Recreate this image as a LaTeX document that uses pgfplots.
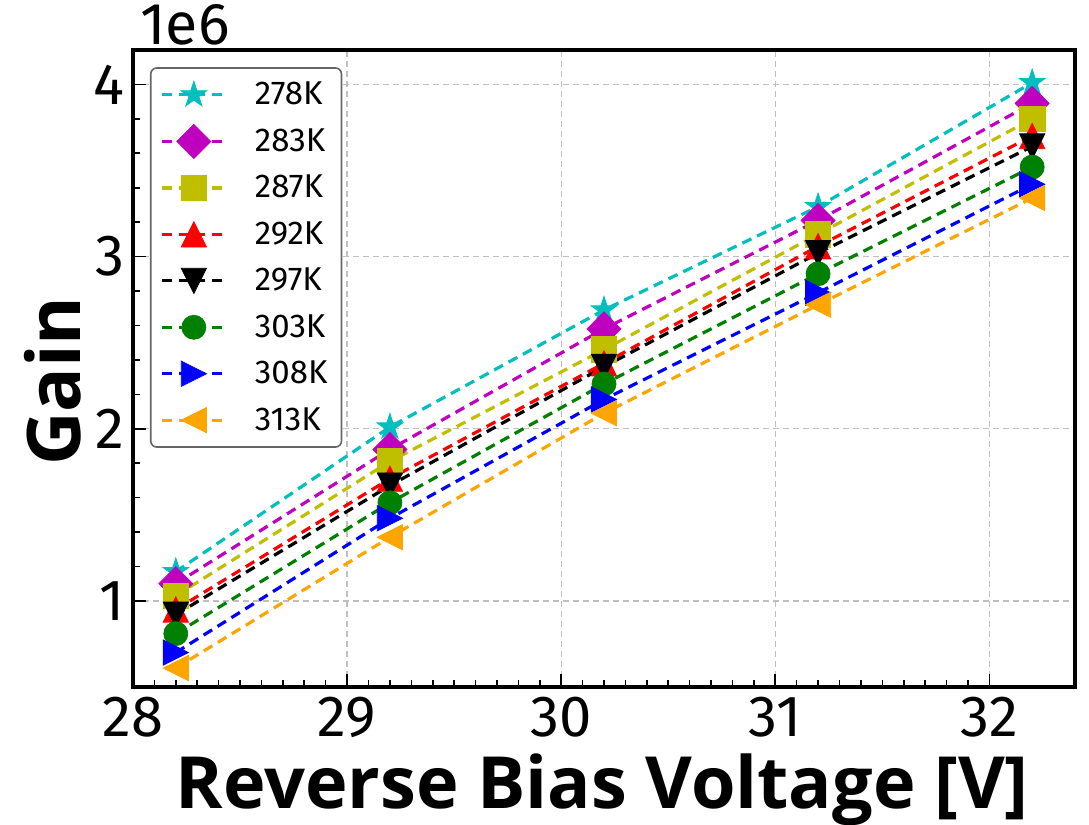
\documentclass[border=0pt]{standalone}
\usepackage{fontspec}
\setmainfont{Fira Sans}
\newfontfamily\labelfont{Open Sans}
\usepackage{pgfplots}
\usepackage{pgfplotstable}
\pgfplotsset{compat=1.18}
\usetikzlibrary{plotmarks}

\definecolor{mc}{rgb}{0,0.75,0.75}
\definecolor{mm}{rgb}{0.75,0,0.75}
\definecolor{my}{rgb}{0.75,0.75,0}
\definecolor{mr}{rgb}{1,0,0}
\definecolor{mk}{rgb}{0,0,0}
\definecolor{mg}{rgb}{0,0.5,0}
\definecolor{mb}{rgb}{0,0,1}
\definecolor{mo}{rgb}{1,0.647,0}

\pgfdeclareplotmark{mstar}{%
 \pgfpathmoveto{\pgfpointpolar{90}{\pgfplotmarksize}}%
 \pgfpathlineto{\pgfpointpolar{126}{0.382\pgfplotmarksize}}%
 \pgfpathlineto{\pgfpointpolar{162}{\pgfplotmarksize}}%
 \pgfpathlineto{\pgfpointpolar{198}{0.382\pgfplotmarksize}}%
 \pgfpathlineto{\pgfpointpolar{234}{\pgfplotmarksize}}%
 \pgfpathlineto{\pgfpointpolar{270}{0.382\pgfplotmarksize}}%
 \pgfpathlineto{\pgfpointpolar{306}{\pgfplotmarksize}}%
 \pgfpathlineto{\pgfpointpolar{342}{0.382\pgfplotmarksize}}%
 \pgfpathlineto{\pgfpointpolar{18}{\pgfplotmarksize}}%
 \pgfpathlineto{\pgfpointpolar{54}{0.382\pgfplotmarksize}}%
 \pgfpathclose\pgfusepathqfillstroke}
\pgfdeclareplotmark{mdiam}{%
 \pgfpathmoveto{\pgfqpoint{0pt}{\pgfplotmarksize}}%
 \pgfpathlineto{\pgfqpoint{\pgfplotmarksize}{0pt}}%
 \pgfpathlineto{\pgfqpoint{0pt}{-\pgfplotmarksize}}%
 \pgfpathlineto{\pgfqpoint{-\pgfplotmarksize}{0pt}}%
 \pgfpathclose\pgfusepathqfillstroke}
\pgfdeclareplotmark{mup}{%
 \pgfpathmoveto{\pgfqpoint{0pt}{\pgfplotmarksize}}%
 \pgfpathlineto{\pgfqpoint{-\pgfplotmarksize}{-\pgfplotmarksize}}%
 \pgfpathlineto{\pgfqpoint{\pgfplotmarksize}{-\pgfplotmarksize}}%
 \pgfpathclose\pgfusepathqfillstroke}
\pgfdeclareplotmark{mdown}{%
 \pgfpathmoveto{\pgfqpoint{0pt}{-\pgfplotmarksize}}%
 \pgfpathlineto{\pgfqpoint{-\pgfplotmarksize}{\pgfplotmarksize}}%
 \pgfpathlineto{\pgfqpoint{\pgfplotmarksize}{\pgfplotmarksize}}%
 \pgfpathclose\pgfusepathqfillstroke}
\pgfdeclareplotmark{mright}{%
 \pgfpathmoveto{\pgfqpoint{\pgfplotmarksize}{0pt}}%
 \pgfpathlineto{\pgfqpoint{-\pgfplotmarksize}{\pgfplotmarksize}}%
 \pgfpathlineto{\pgfqpoint{-\pgfplotmarksize}{-\pgfplotmarksize}}%
 \pgfpathclose\pgfusepathqfillstroke}
\pgfdeclareplotmark{mleft}{%
 \pgfpathmoveto{\pgfqpoint{-\pgfplotmarksize}{0pt}}%
 \pgfpathlineto{\pgfqpoint{\pgfplotmarksize}{\pgfplotmarksize}}%
 \pgfpathlineto{\pgfqpoint{\pgfplotmarksize}{-\pgfplotmarksize}}%
 \pgfpathclose\pgfusepathqfillstroke}

\pgfplotstableread{
x t278 t283 t287 t292 t297 t303 t308 t313
28.2 1.17 1.10 1.03 0.95 0.92 0.81 0.70 0.61
29.2 2.01 1.88 1.81 1.71 1.67 1.57 1.48 1.37
30.2 2.69 2.58 2.46 2.38 2.36 2.26 2.17 2.09
31.2 3.29 3.21 3.13 3.06 3.02 2.90 2.79 2.72
32.2 4.01 3.89 3.80 3.70 3.64 3.52 3.42 3.34
}\gaindata

\begin{document}
\begin{tikzpicture}
\useasboundingbox (-66.5pt,-69pt) rectangle (478pt,343.5pt);
\begin{axis}[
 at={(0pt,0pt)}, anchor=south west,
 scale only axis, width=471pt, height=318.5pt,
 xmin=28, xmax=32.4, ymin=0.5, ymax=4.2,
 xtick={28,29,30,31,32}, ytick={1,2,3,4},
 minor x tick num=9, minor y tick num=4,
 tick align=inside, xtick pos=left, ytick pos=left,
 major tick length=6.5pt, minor tick length=3.5pt,
 tick style={black, line width=0.8pt},
 axis line style={line width=2pt},
 grid=major, grid style={dashed, black!25, line width=0.6pt, dash pattern=on 3pt off 2pt},
 /pgf/number format/assume math mode=true,
 ticklabel style={font=\fontsize{29}{29}\selectfont},
 xticklabel style={anchor=base, yshift=-25pt},
 yticklabel style={anchor=east, inner sep=0pt, xshift=-4pt},
 xlabel={Reverse Bias Voltage [V]},
 xlabel style={at={(axis description cs:0.498,-0.19)}, anchor=base, font=\fontsize{36}{36}\selectfont\labelfont\bfseries},
 ylabel={Gain},
 ylabel style={at={(axis description cs:-0.085,0.48)}, anchor=center, font=\fontsize{37}{37}\selectfont\labelfont\bfseries},
 legend style={at={(axis description cs:0.018,0.973)}, anchor=north west, draw=black!60, rounded corners=3pt, line width=0.8pt, font=\fontsize{16.5}{16.5}\selectfont, inner sep=5pt, row sep=6.35pt, /tikz/every odd column/.append style={column sep=12pt}},
 legend cell align=left,
 legend image code/.code={\draw[mark repeat=2,mark phase=2] plot coordinates {(0pt,0pt)(15.75pt,0pt)(31.5pt,0pt)};},
 every axis plot/.append style={line width=1.6pt, dash pattern=on 5pt off 3.2pt},
]
\addplot[mc, mark=mstar, mark size=6.8pt, mark options={solid, fill=mc, line width=0.4pt}] table[x=x,y=t278] {\gaindata};
\addlegendentry{278K}
\addplot[mm, mark=mdiam, mark size=8.5pt, mark options={solid, fill=mm, line width=0.4pt}] table[x=x,y=t283] {\gaindata};
\addlegendentry{283K}
\addplot[my, mark=square*, mark size=6.4pt, mark options={solid, fill=my, line width=0.4pt}] table[x=x,y=t287] {\gaindata};
\addlegendentry{287K}
\addplot[mr, mark=mup, mark size=6.3pt, mark options={solid, fill=mr, line width=0.4pt}] table[x=x,y=t292] {\gaindata};
\addlegendentry{292K}
\addplot[mk, mark=mdown, mark size=6.3pt, mark options={solid, fill=mk, line width=0.4pt}] table[x=x,y=t297] {\gaindata};
\addlegendentry{297K}
\addplot[mg, mark=*, mark size=6pt, mark options={solid, fill=mg, line width=0.4pt}] table[x=x,y=t303] {\gaindata};
\addlegendentry{303K}
\addplot[mb, mark=mright, mark size=6.3pt, mark options={solid, fill=mb, line width=0.4pt}] table[x=x,y=t308] {\gaindata};
\addlegendentry{308K}
\addplot[mo, mark=mleft, mark size=6.3pt, mark options={solid, fill=mo, line width=0.4pt}] table[x=x,y=t313] {\gaindata};
\addlegendentry{313K}
\end{axis}
\node[anchor=base west, inner sep=0pt, font=\fontsize{29.5}{29.5}\selectfont] at ([shift={(3.5pt,2.5pt)}]current axis.north west) {1e6};
\end{tikzpicture}
\end{document}
